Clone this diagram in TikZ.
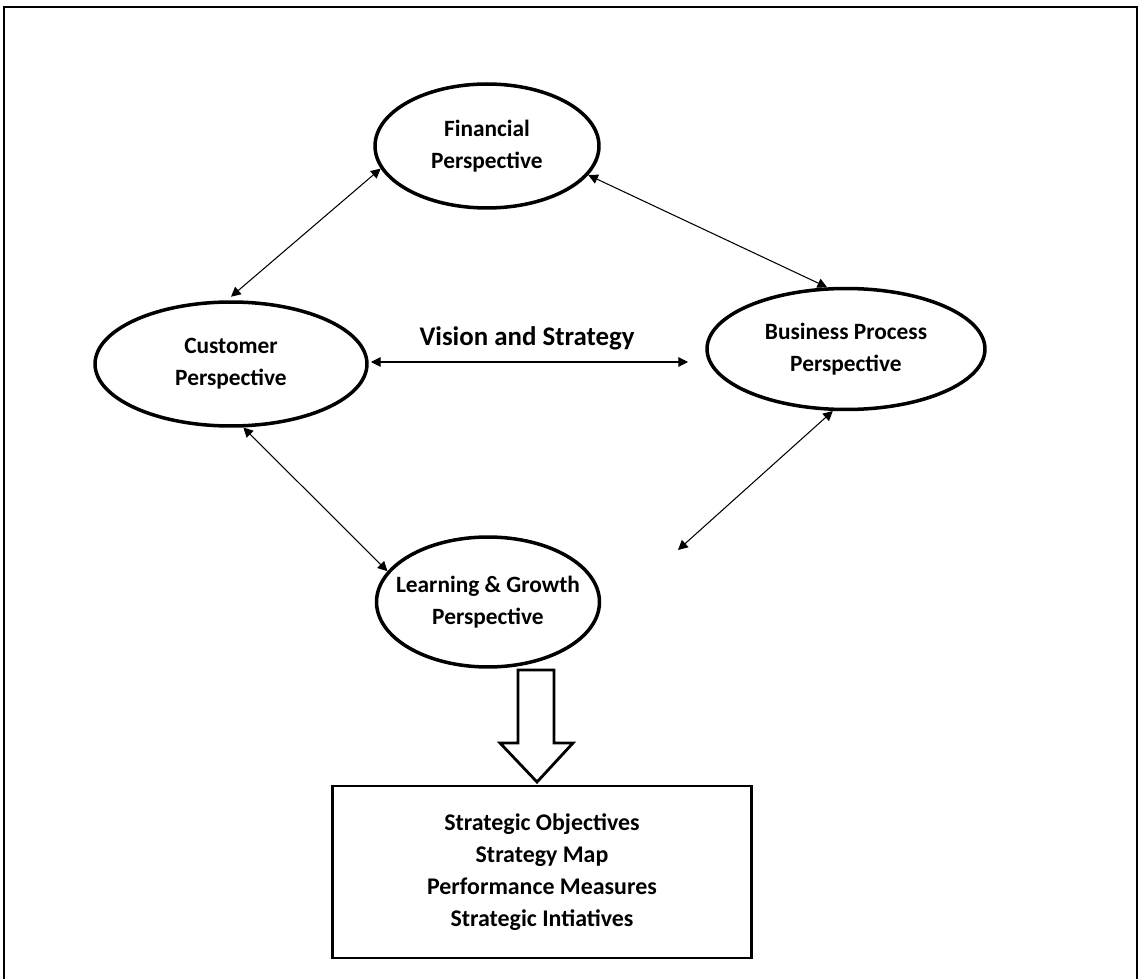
\documentclass[tikz,border=0pt]{standalone}
\usepackage{fontspec}
\setmainfont{Carlito}
\usepackage{tikz}
\usetikzlibrary{arrows.meta,shapes.geometric}

\begin{document}
\begin{tikzpicture}[x=0.02cm,y=-0.02cm,
    persp/.style={draw,ellipse,line width=2pt,inner sep=0pt},
    ptext/.style={align=center,font=\fontsize{13.3}{18.2}\selectfont\bfseries},
    link/.style={line width=0.6pt,{Triangle[length=5.5pt,width=5.5pt]}-{Triangle[length=5.5pt,width=5.5pt]}}]
                \useasboundingbox (0,0) rectangle (1139,979);
                \draw[line width=1.3pt] (4,979) -- (4,7) -- (1137,7) -- (1137,979);

                \node[persp,minimum width=4.48cm,minimum height=2.48cm,
                      label={[ptext]center:{Financial\\Perspective}}] (fin) at (487,146) {};
                \node[persp,minimum width=5.44cm,minimum height=2.48cm,
                      label={[ptext]center:{Customer\\Perspective}}] (cust) at (231,364) {};
                \node[persp,minimum width=5.56cm,minimum height=2.42cm,
                      label={[ptext]center:{Business Process\\Perspective}}] (bus) at (846,349) {};
                \node[persp,minimum width=4.46cm,minimum height=2.6cm,
                      label={[ptext]center:{Learning \& Growth\\Perspective}}] (learn) at (488,602) {};

                \node[font=\fontsize{15.3}{18}\selectfont\bfseries] (vis) at (527,338) {Vision and Strategy};
                \coordinate (visl) at (371,362);
                \coordinate (visr) at (688,362);
                \coordinate (learnr) at (678,550);

                \draw[link] (fin.192) -- ([yshift=2pt]cust.north);
                \draw[link] (fin.-16) -- (bus.107);
                \draw[link] (cust.-79) -- (learn.163);
                \draw[link] (bus.258) -- (learnr);
                \draw[link] (visl) -- (visr);

                % block arrow down to the box
                \draw[line width=1.6pt,line join=miter] (518,670) -- (554,670) -- (554,743) -- (573,743)
                      -- (537,782) -- (500,743) -- (518,743) -- cycle;

                \node[draw,line width=1.6pt,minimum width=8.38cm,minimum height=3.44cm,align=center,
                      font=\fontsize{13.6}{18.2}\selectfont\bfseries] (res) at (542,872)
                      {Strategic Objectives\\Strategy Map\\Performance Measures\\Strategic Intiatives};
\end{tikzpicture}
\end{document}
